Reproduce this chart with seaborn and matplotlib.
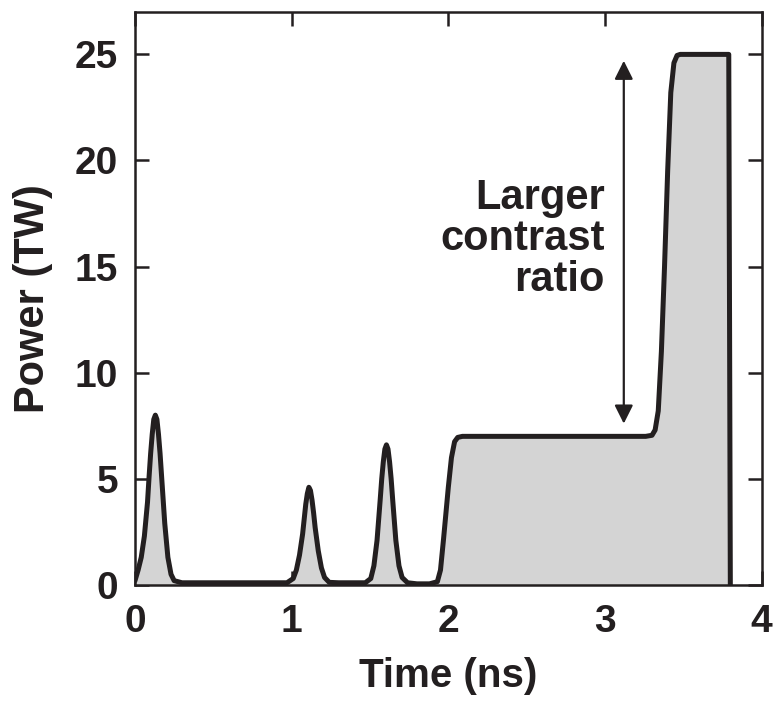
import matplotlib
matplotlib.use("Agg")
import matplotlib.pyplot as plt
import seaborn as sns
import pandas as pd

sns.set_theme(style="ticks")
plt.rcParams['font.family'] = ['Liberation Sans', 'DejaVu Sans']
plt.rcParams['font.weight'] = 'bold'

time_ns = [0.00, 0.02, 0.04, 0.06, 0.08, 0.09, 0.10, 0.11, 0.12, 0.13, 0.14, 0.15, 0.16, 0.17, 0.19, 0.21, 0.23, 0.25, 0.30,
           0.97, 1.01, 1.03, 1.05, 1.07, 1.08, 1.09, 1.10, 1.11, 1.12, 1.13, 1.14, 1.15, 1.17, 1.19, 1.21, 1.24, 1.30,
           1.47, 1.505, 1.525, 1.545, 1.565, 1.575, 1.585, 1.595, 1.605, 1.615, 1.625, 1.635, 1.645, 1.665, 1.685, 1.705, 1.74, 1.80,
           1.88, 1.93, 1.95, 1.97, 2.00, 2.02, 2.04, 2.06, 2.09, 3.26, 3.30, 3.32, 3.34, 3.36, 3.38, 3.40, 3.42,
           3.44, 3.46, 3.48, 3.79, 3.80]
power_tw = [0.2, 0.7, 1.3, 2.3, 3.9, 5.1, 6.2, 7.1, 7.8, 8.0, 7.8, 7.1, 6.2, 5.1, 2.9, 1.3, 0.5, 0.2, 0.1,
            0.1, 0.3, 0.7, 1.4, 2.4, 3.1, 3.8, 4.3, 4.6, 4.45, 4.0, 3.4, 2.7, 1.6, 0.8, 0.35, 0.12, 0.1,
            0.1, 0.3, 0.9, 2.1, 4.0, 5.0, 5.8, 6.4, 6.6, 6.4, 5.8, 5.0, 4.0, 2.1, 0.9, 0.35, 0.1, 0.05,
            0.05, 0.15, 0.7, 2.2, 4.6, 6.0, 6.75, 6.95, 7.0, 7.0, 7.05, 7.3, 8.2, 11.0, 15.0, 19.5, 23.2,
            24.6, 24.95, 25.0, 25.0, 0.0]

x_ticks = [0, 1, 2, 3, 4]
y_ticks = [0, 5, 10, 15, 20, 25]
annotation = "Larger\ncontrast\nratio"
arrow_t = 3.12
arrow_span = (24.7, 7.6)

df = pd.DataFrame({"Time (ns)": time_ns, "Power (TW)": power_tw})

fig = plt.figure(figsize=(7.78, 7.03), dpi=100)
ax = fig.add_axes([0.1735, 0.168, 0.979 - 0.1735, 0.983 - 0.168])

ax.fill_between(df["Time (ns)"], df["Power (TW)"], 0, color="#d4d4d4", linewidth=0, zorder=1)
sns.lineplot(data=df, x="Time (ns)", y="Power (TW)", ax=ax, color="#231f20",
             linewidth=3.6, sort=False, estimator=None, zorder=3)
for ln in ax.lines:
    ln.set_solid_joinstyle("round")
    ln.set_solid_capstyle("round")

ax.set_xlim(0, 4)
ax.set_ylim(0, 27)
ax.set_xticks(x_ticks)
ax.set_yticks(y_ticks)
ax.tick_params(direction="in", length=10, width=1.8, top=True, right=True,
               labelsize=28, color="#231f20", labelcolor="#231f20")
ax.tick_params(axis="x", pad=14)
ax.tick_params(axis="y", pad=12)
for lab in ax.get_xticklabels() + ax.get_yticklabels():
    lab.set_fontweight("bold")
for s in ax.spines.values():
    s.set_linewidth(1.8)
    s.set_color("#231f20")

ax.set_xlabel("Time (ns)", fontsize=29, fontweight="bold", color="#231f20", labelpad=12)
ax.set_ylabel("Power (TW)", fontsize=30, fontweight="bold", color="#231f20", labelpad=16)

ax.annotate("", xy=(arrow_t, arrow_span[0]), xytext=(arrow_t, arrow_span[1]),
            arrowprops=dict(arrowstyle="<|-|>", color="#231f20", lw=1.6,
                            mutation_scale=28, shrinkA=0, shrinkB=0))
ax.text(3.0, 16.3, annotation, ha="right", va="center", fontsize=30,
        fontweight="bold", color="#231f20", linespacing=1.03)

fig.savefig("out.png", dpi=100)
